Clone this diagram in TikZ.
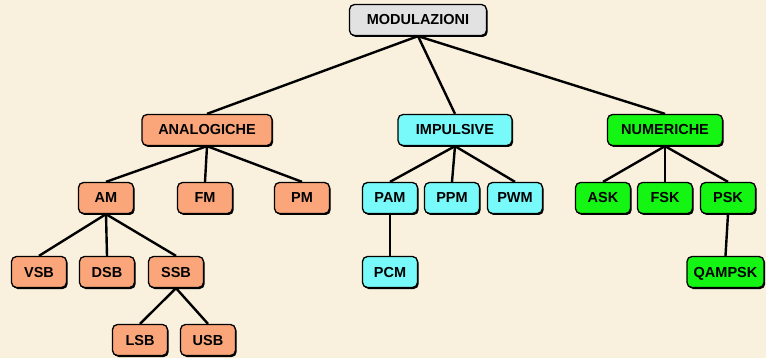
\documentclass[tikz,border=0pt]{standalone}
\usepackage{fontspec}
\setmainfont{Liberation Sans}
\usetikzlibrary{shadows}
\definecolor{bg}{RGB}{249,241,221}
\definecolor{grayfill}{RGB}{226,226,226}
\definecolor{salmon}{RGB}{250,166,122}
\definecolor{cyanfill}{RGB}{120,250,250}
\definecolor{greenfill}{RGB}{20,245,20}
\tikzset{
  box/.style={draw=black, line width=1.3pt, rounded corners=5pt,
    font=\bfseries\fontsize{14.5}{14.5}\selectfont, minimum height=31pt,
    inner sep=0pt, text height=10pt, text depth=0pt,
    drop shadow={shadow xshift=1.2pt, shadow yshift=-1.5pt, fill=black, opacity=1}},
  sm/.style={box, minimum width=55pt},
  ana/.style={fill=salmon},
  imp/.style={fill=cyanfill},
  num/.style={fill=greenfill},
  link/.style={line width=2.4pt, black}
}
\begin{document}
\begin{tikzpicture}[x=1pt,y=-1pt]
\fill[bg] (0,0) rectangle (766,358);
\useasboundingbox (0,0) rectangle (766,358);
\node[box, fill=grayfill, minimum width=137pt] (mod) at (418,20) {MODULAZIONI};
\node[box, ana, minimum width=130pt] (ana) at (207,130) {ANALOGICHE};
\node[box, imp, minimum width=114pt] (imp) at (455,130) {IMPULSIVE};
\node[box, num, minimum width=115pt] (num) at (665,130) {NUMERICHE};
\node[sm, ana] (am) at (106,198) {AM};
\node[sm, ana] (fm) at (205,198) {FM};
\node[sm, ana] (pm) at (302,198) {PM};
\node[sm, ana] (vsb) at (39,272) {VSB};
\node[sm, ana] (dsb) at (107,272) {DSB};
\node[sm, ana] (ssb) at (176,272) {SSB};
\node[sm, ana] (lsb) at (140,340) {LSB};
\node[sm, ana] (usb) at (208,340) {USB};
\node[sm, imp] (pam) at (390,198) {PAM};
\node[sm, imp] (ppm) at (452,198) {PPM};
\node[sm, imp] (pwm) at (515,198) {PWM};
\node[sm, imp] (pcm) at (390,272) {PCM};
\node[sm, num] (ask) at (603,198) {ASK};
\node[sm, num] (fsk) at (665,198) {FSK};
\node[sm, num] (psk) at (728,198) {PSK};
\node[box, num, minimum width=77pt] (qam) at (725.5,272) {QAMPSK};
\foreach \p/\c in {mod/ana, mod/imp, mod/num, ana/am, ana/fm, ana/pm,
  am/vsb, am/dsb, am/ssb, ssb/lsb, ssb/usb, imp/pam, imp/ppm, imp/pwm,
  pam/pcm, num/ask, num/fsk, num/psk, psk/qam}
  \draw[link] (\p.south) -- (\c.north);
\end{tikzpicture}
\end{document}
